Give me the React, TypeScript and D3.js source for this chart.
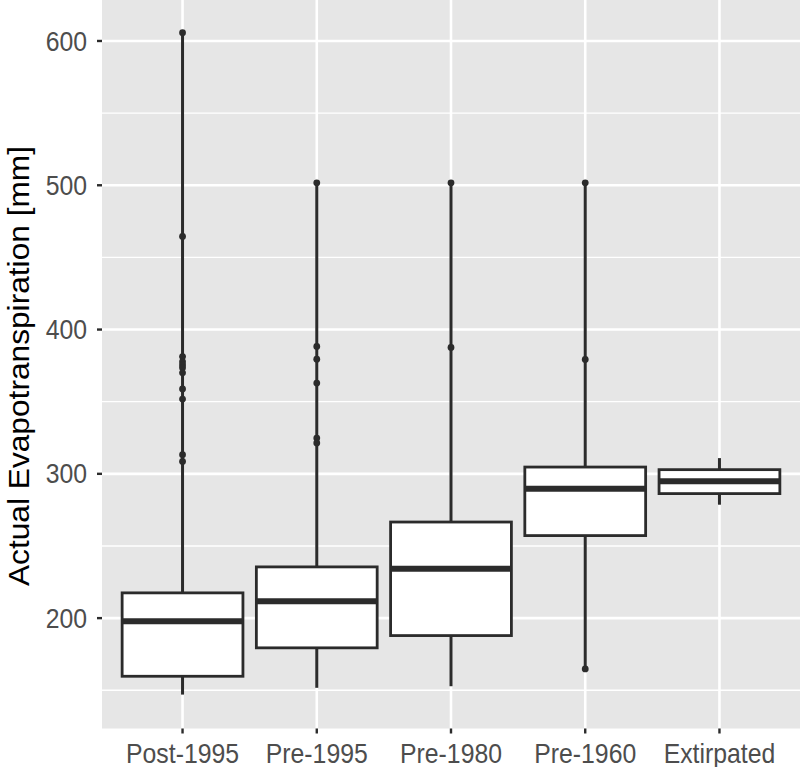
import React from "react";
import * as d3 from "d3";

// box stats (mm)
const categories = ["Post-1995", "Pre-1995", "Pre-1980", "Pre-1960", "Extirpated"];
const lowerEnd = [147, 151.7, 152.8, 164.8, 278.6];
const q1 = [159.7, 179.4, 187.9, 257.2, 286.3];
const median = [197.8, 211.7, 234.3, 289.7, 294.9];
const q3 = [217.5, 235.5, 266.6, 304.7, 302.9];
const upperEnd = [605.7, 501.7, 501.7, 501.7, 310.9];
const outliers = [
  [605.7, 464.5, 381.3, 377.7, 375.5, 373.5, 370, 358.8, 351.8, 313.3, 308.6],
  [501.7, 388.3, 379.5, 362.9, 324.8, 321.4],
  [501.7, 387.6],
  [501.7, 379.3, 164.8],
  [],
];
const majorTicks = [200, 300, 400, 500, 600];
const minorTicks = [150, 250, 350, 450, 550];

const W = 800;
const H = 767;
const panel = { left: 102, right: 800, top: 0, bottom: 728.5 };
const ink = "#2B2B2B";

export default function App() {
  const x = d3
    .scalePoint<string>()
    .domain(categories)
    .range([panel.left, panel.right])
    .padding(0.6);
  const y = d3.scaleLinear().domain([123.5, 628.4]).range([panel.bottom, panel.top]);
  const boxW = x.step() * 0.9;

  return (
    <svg
      width={W}
      height={H}
      style={{ position: "absolute", left: 0, top: 0, background: "#fff" }}
      fontFamily="'Liberation Sans', Arial, sans-serif"
    >
      <rect
        x={panel.left}
        y={panel.top}
        width={panel.right - panel.left}
        height={panel.bottom - panel.top}
        fill="#E6E6E6"
      />
      {minorTicks.map((t) => (
        <line key={"mn" + t} x1={panel.left} x2={panel.right} y1={y(t)} y2={y(t)} stroke="#fff" strokeWidth={1.3} />
      ))}
      {majorTicks.map((t) => (
        <line key={"mj" + t} x1={panel.left} x2={panel.right} y1={y(t)} y2={y(t)} stroke="#fff" strokeWidth={2.6} />
      ))}
      {categories.map((c) => (
        <line key={"vg" + c} x1={x(c)} x2={x(c)} y1={panel.top} y2={panel.bottom} stroke="#fff" strokeWidth={2.6} />
      ))}

      {categories.map((c, i) => {
        const cx = x(c) as number;
        return (
          <g key={"box" + c}>
            <line x1={cx} x2={cx} y1={y(q3[i])} y2={y(upperEnd[i])} stroke={ink} strokeWidth={3} />
            <line x1={cx} x2={cx} y1={y(q1[i])} y2={y(lowerEnd[i])} stroke={ink} strokeWidth={3} />
            <rect
              x={cx - boxW / 2}
              y={y(q3[i])}
              width={boxW}
              height={y(q1[i]) - y(q3[i])}
              fill="#fff"
              stroke={ink}
              strokeWidth={2.8}
            />
            <line
              x1={cx - boxW / 2}
              x2={cx + boxW / 2}
              y1={y(median[i])}
              y2={y(median[i])}
              stroke={ink}
              strokeWidth={6}
            />
            {outliers[i].map((v, j) => (
              <circle key={j} cx={cx} cy={y(v)} r={3.4} fill={ink} />
            ))}
          </g>
        );
      })}

      {/* y axis */}
      {majorTicks.map((t) => (
        <g key={"yt" + t}>
          <line x1={panel.left - 5} x2={panel.left} y1={y(t)} y2={y(t)} stroke={ink} strokeWidth={2.4} />
          <text
            transform={`translate(87,${y(t)}) scale(1,1.1)`}
            textAnchor="end"
            dy="0.35em"
            fontSize={24.8}
            fill="#4D4D4D"
          >
            {t}
          </text>
        </g>
      ))}

      {/* x axis */}
      {categories.map((c) => (
        <g key={"xt" + c}>
          <line x1={x(c)} x2={x(c)} y1={panel.bottom} y2={panel.bottom + 5} stroke={ink} strokeWidth={2.4} />
          <text
            transform={`translate(${x(c)},762.5) scale(1,1.09)`}
            textAnchor="middle"
            fontSize={24.8}
            fill="#4D4D4D"
          >
            {c}
          </text>
        </g>
      ))}

      <text
        transform={`translate(28.5,366) rotate(-90)`}
        textAnchor="middle"
        fontSize={29.5}
        textLength={440}
        lengthAdjust="spacingAndGlyphs"
        fill="#000"
      >
        Actual Evapotranspiration [mm]
      </text>
    </svg>
  );
}
